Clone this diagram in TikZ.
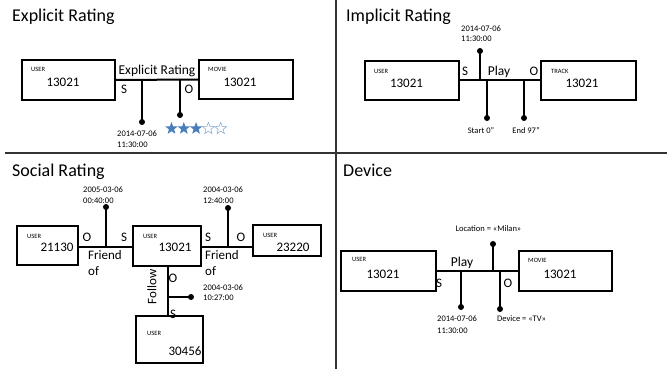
\documentclass[tikz,border=0pt]{standalone}
\usepackage{fontspec}
\setmainfont{Carlito}
\usetikzlibrary{shapes.geometric}
\definecolor{starblue}{HTML}{4A7EBB}
\begin{document}
\begin{tikzpicture}[x=1pt,y=-1pt,
 box/.style={draw, line width=2pt, inner sep=0},
 conn/.style={line width=2pt},
 dot/.style={circle, fill, inner sep=0, minimum size=6pt},
 ttl/.style={font=\fontsize{18}{20}\selectfont, anchor=base west, inner sep=0},
 rel/.style={font=\fontsize{13.5}{15}\selectfont, anchor=base, inner sep=0},
 so/.style={font=\fontsize{13}{15}\selectfont, anchor=base, inner sep=0},
 fr/.style={font=\fontsize{13}{15}\selectfont, anchor=base west, inner sep=0},
 num/.style={font=\fontsize{13}{15}\selectfont, anchor=base, inner sep=0},
 tag/.style={font=\fontsize{6.5}{8}\selectfont, anchor=west, inner sep=0},
 ts/.style={font=\fontsize{8.5}{10}\selectfont, anchor=base west, inner sep=0},
 tsc/.style={font=\fontsize{8.5}{10}\selectfont, anchor=base, inner sep=0},
 fstar/.style={star, star points=5, star point ratio=2.4, minimum size=13pt, inner sep=0, fill=starblue},
 ostar/.style={star, star points=5, star point ratio=2.4, minimum size=12.5pt, inner sep=0, draw=starblue!70, line width=0.5pt},
 divider/.style={line width=1.3pt, draw=black!80}]
\useasboundingbox (0,0) rectangle (667,369);
% dividers
\coordinate (vt) at (336,0);
\coordinate (vb) at (336,369);
\coordinate (hl) at (5,153);
\coordinate (hr) at (667,153);
\draw[divider] (vt) -- (vb);
\draw[divider] (hl) -- (hr);

% ---------- Explicit Rating ----------
\node[ttl] (t1) at (12,22) {Explicit Rating};
\node[box, minimum width=93pt, minimum height=40pt] (u1) at (68.5,80) {};
\node[box, minimum width=94pt, minimum height=39pt] (m1) at (246,79.5) {};
\node[tag] (u1t) at (31,69.5) {USER};
\node[num] (u1n) at (63,87) {13021};
\node[tag] (m1t) at (208,69.5) {MOVIE};
\node[num] (m1n) at (240,87) {13021};
\draw[conn] (u1.east) -- (m1.west);
\node[rel] (r1) at (157,75) {Explicit Rating};
\node[so] (s1) at (124,93) {S};
\node[so] (o1) at (189,93) {O};
\coordinate (j11) at (142,79.5);
\coordinate (j12) at (180,79.5);
\node[dot] (d11) at (142,122) {};
\node[dot] (d12) at (180,115) {};
\draw[conn] (j11) -- (d11.center);
\draw[conn] (j12) -- (d12.center);
\node[ts] (ts11) at (117,136) {2014-07-06};
\node[ts] (ts12) at (117,147) {11:30:00};
\node[fstar] (st1) at (171.5,128.5) {};
\node[fstar] (st2) at (183.8,128.5) {};
\node[fstar] (st3) at (196.1,128.5) {};
\node[ostar] (st4) at (208.4,128.5) {};
\node[ostar] (st5) at (220.7,128.5) {};

% ---------- Implicit Rating ----------
\node[ttl] (t2) at (346,22) {Implicit Rating};
\node[box, minimum width=94pt, minimum height=39pt] (u2) at (412,80.5) {};
\node[box, minimum width=95pt, minimum height=39pt] (k2) at (588.5,80.5) {};
\node[tag] (u2t) at (374,71) {USER};
\node[num] (u2n) at (406.5,88) {13021};
\node[tag] (k2t) at (551,71) {TRACK};
\node[num] (k2n) at (582,88) {13021};
\draw[conn] (u2.east) -- (k2.west);
\node[rel] (r2) at (499,76) {Play};
\node[so] (s2) at (465,76) {S};
\node[so] (o2) at (534,76) {O};
\coordinate (j21) at (480,80.5);
\coordinate (j22) at (487,80.5);
\coordinate (j23) at (524,80.5);
\node[dot] (d21) at (480,51) {};
\node[dot] (d22) at (487,118) {};
\node[dot] (d23) at (524,118) {};
\draw[conn] (j21) -- (d21.center);
\draw[conn] (j22) -- (d22.center);
\draw[conn] (j23) -- (d23.center);
\node[ts] (ts21) at (461,32) {2014-07-06};
\node[ts] (ts22) at (461,42) {11:30:00};
\node[tsc] (st) at (481,133) {Start 0''};
\node[tsc] (en) at (526,133) {End 97''};

% ---------- Social Rating ----------
\node[ttl] (t3) at (12,176) {Social Rating};
\node[box, minimum width=61pt, minimum height=39pt] (a3) at (47.5,245.5) {};
\node[box, minimum width=68pt, minimum height=40pt] (b3) at (167,246) {};
\node[box, minimum width=68pt, minimum height=31pt] (c3) at (287,240.5) {};
\node[box, minimum width=67pt, minimum height=47pt] (e3) at (169.5,339.5) {};
\node[tag] (a3t) at (27,236) {USER};
\node[num] (a3n) at (57,251) {21130};
\node[tag] (b3t) at (143,236) {USER};
\node[num] (b3n) at (175,251) {13021};
\node[tag] (c3t) at (263,235) {USER};
\node[num] (c3n) at (293,251) {23220};
\node[tag] (e3t) at (147,333) {USER};
\node[num] (e3n) at (185,355) {30456};
\coordinate (j31) at (106,247);
\coordinate (j32) at (228,247);
\coordinate (j33) at (168,297);
\draw[conn] (a3.east |- j31) -- (b3.west |- j31);
\draw[conn] (b3.east |- j32) -- (c3.west |- j32);
\draw[conn] (b3.south -| j33) -- (e3.north -| j33);
\node[dot] (d31) at (106,207) {};
\node[dot] (d32) at (228,208) {};
\node[dot] (d33) at (191,297) {};
\draw[conn] (j31) -- (d31.center);
\draw[conn] (j32) -- (d32.center);
\draw[conn] (j33) -- (d33.center);
\node[so] (o31) at (87,241) {O};
\node[so] (s31) at (124,241) {S};
\node[so] (s32) at (208,241) {S};
\node[so] (o32) at (241,241) {O};
\node[so] (o33) at (173,282) {O};
\node[so] (s33) at (173,318) {S};
\node[fr] (f31) at (88,259) {Friend};
\node[fr] (f31b) at (88,275) {of};
\node[fr] (f32) at (205,259) {Friend};
\node[fr] (f32b) at (205,275) {of};
\node[font=\fontsize{13}{15}\selectfont, rotate=90, inner sep=0] (fo) at (152,287) {Follow};
\node[ts] (ts31) at (83,192) {2005-03-06};
\node[ts] (ts32) at (83,203) {00:40:00};
\node[ts] (ts33) at (203,192) {2004-03-06};
\node[ts] (ts34) at (203,203) {12:40:00};
\node[ts] (ts35) at (203,290) {2004-03-06};
\node[ts] (ts36) at (203,300) {10:27:00};

% ---------- Device ----------
\node[ttl] (t4) at (343,176) {Device};
\node[box, minimum width=95pt, minimum height=40pt] (u4) at (388.5,270.5) {};
\node[box, minimum width=93pt, minimum height=40pt] (m4) at (565.5,270.5) {};
\node[tag] (u4t) at (352,259) {USER};
\node[num] (u4n) at (383,278) {13021};
\node[tag] (m4t) at (528,260) {MOVIE};
\node[num] (m4n) at (560,278) {13021};
\draw[conn] (u4.east) -- (m4.west);
\node[rel] (r4) at (462,266) {Play};
\node[so] (s4) at (439,287) {S};
\node[so] (o4) at (508,287) {O};
\coordinate (j41) at (493,270.5);
\coordinate (j42) at (461,270.5);
\coordinate (j43) at (500,270.5);
\node[dot] (d41) at (493,244) {};
\node[dot] (d42) at (461,307) {};
\node[dot] (d43) at (500,309) {};
\draw[conn] (j41) -- (d41.center);
\draw[conn] (j42) -- (d42.center);
\draw[conn] (j43) -- (d43.center);
\node[tsc] (loc) at (488.5,231) {Location = «Milan»};
\node[ts] (ts41) at (437,321) {2014-07-06};
\node[ts] (ts42) at (437,333) {11:30:00};
\node[ts] (dev) at (497,321) {Device = «TV»};
\end{tikzpicture}
\end{document}
